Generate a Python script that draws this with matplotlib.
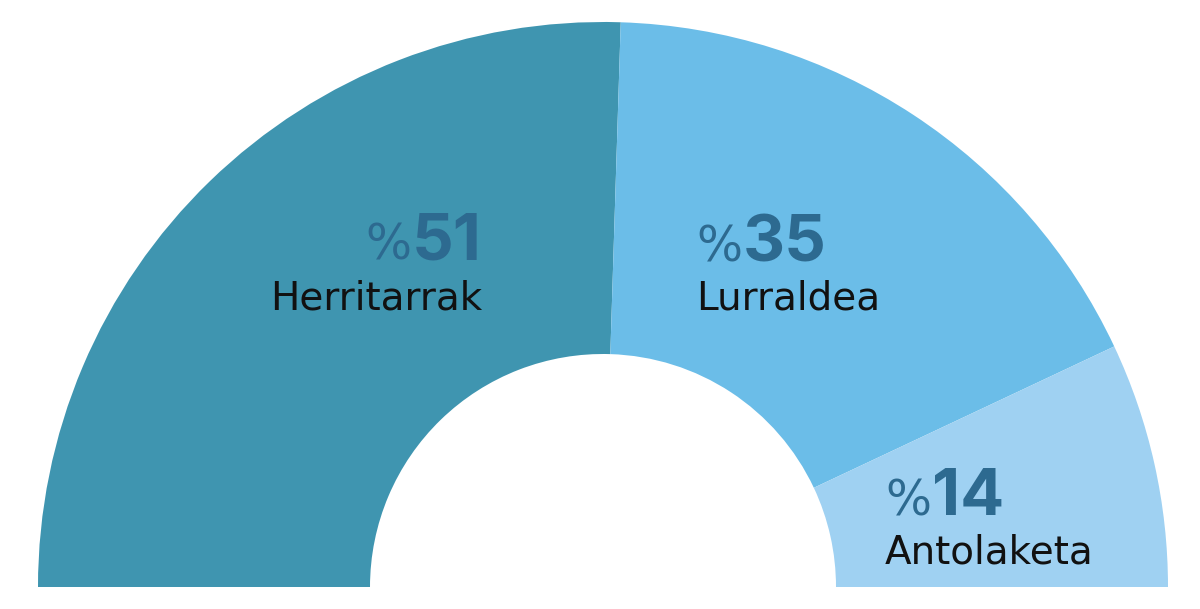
import matplotlib
matplotlib.use("Agg")
from matplotlib import pyplot as plt

# Data
labels = ["Herritarrak", "Lurraldea", "Antolaketa"]
shares = [51, 35, 14]

# Colors
COLORS = ["#3f95b0", "#6bbde8", "#9fd1f2"]
PCT_COLOR = "#2d6a90"
NUM_FONT = ["Inter", "DejaVu Sans"]
TXT_FONT = ["DejaVu Sans"]

W, H = 1200, 609
CX, CY = 603, 587      # center of the half donut, pixels from top-left
R_OUT = 565
R_IN = 233

fig = plt.figure(figsize=(W / 100, H / 100), dpi=100)
ax = fig.add_axes([0, 0, 1, 1])

# half donut: add an invisible slice equal to the total for the lower half
vals = shares + [sum(shares)]
wedges, _ = ax.pie(vals, startangle=180, counterclock=False, radius=1,
                   colors=COLORS + ["none"],
                   wedgeprops=dict(width=1 - R_IN / R_OUT, linewidth=0))
ax.set_aspect("auto")
ax.set_xlim(-CX / R_OUT, (W - CX) / R_OUT)
ax.set_ylim(-(H - CY) / R_OUT, CY / R_OUT)
ax.axis("off")

# label layout in pixels: (x, baseline of pct, baseline of name, align)
label_pos = [(482, 260, 310, "right"), (696, 262, 309, "left"), (885, 515, 563, "left")]

fig.canvas.draw()
renderer = fig.canvas.get_renderer()


def px(x, y):
    return x / W, 1 - y / H


for name, val, (x, yp, yn, align) in zip(labels, shares, label_pos):
    fig.text(*px(x, yn), name, ha=align, va="baseline", fontsize=28,
             color="#111111", family=TXT_FONT)
    if align == "right":
        t_num = fig.text(*px(x, yp), str(val), ha="right", va="baseline",
                         fontsize=47, fontweight="bold", color=PCT_COLOR, family=NUM_FONT)
        bb = t_num.get_window_extent(renderer)
        fig.text((bb.x0 - 1) / W, 1 - yp / H, "%", ha="right", va="baseline",
                 fontsize=35, color=PCT_COLOR, family=TXT_FONT)
    else:
        t_pct = fig.text(*px(x, yp), "%", ha="left", va="baseline",
                         fontsize=35, color=PCT_COLOR, family=TXT_FONT)
        bb = t_pct.get_window_extent(renderer)
        fig.text((bb.x1 + 1) / W, 1 - yp / H, str(val), ha="left", va="baseline",
                 fontsize=47, fontweight="bold", color=PCT_COLOR, family=NUM_FONT)

fig.savefig("out.png", dpi=100)
